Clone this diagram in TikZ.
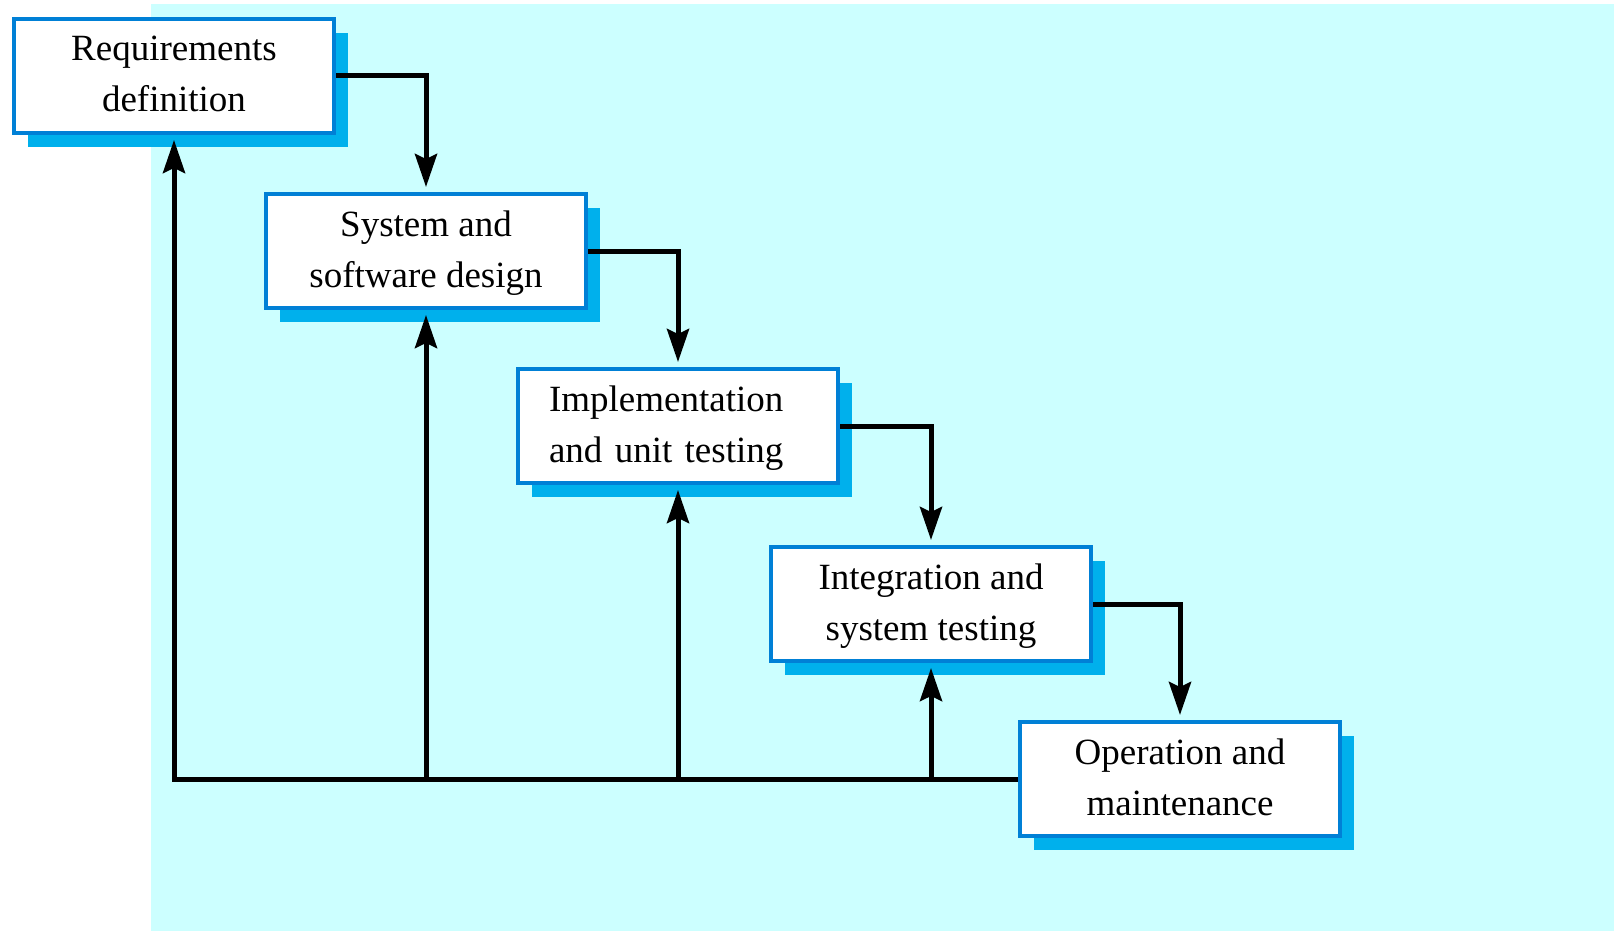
\documentclass[tikz,border=0pt]{standalone}
\usepackage{fontspec}
\setmainfont{Liberation Serif}
\usetikzlibrary{arrows.meta,shadows}
\definecolor{panel}{HTML}{CCFFFF}
\definecolor{edgeblue}{HTML}{0080D6}
\definecolor{shadeblue}{HTML}{00B0EC}
% struts that fix the vertical placement of the two text lines
\newcommand{\upstrut}{\rule{0pt}{31pt}}
\newcommand{\dnstrut}{\rule[-10pt]{0pt}{10pt}}
\begin{document}
\begin{tikzpicture}[x=1pt,y=-1pt,
  phase/.style={draw=edgeblue, line width=4pt, fill=white,
    minimum width=320pt, minimum height=114pt, inner sep=0pt,
    align=center, font=\fontsize{37pt}{51pt}\selectfont,
    drop shadow={shadow xshift=14pt, shadow yshift=-14pt,
      fill=shadeblue, opacity=1}},
  flow/.style={line width=5pt, line join=miter,
    -{Stealth[length=33pt,width=22pt,inset=5pt]}, shorten >=5pt}]
\useasboundingbox (0,0) rectangle (1619,931);
\fill[panel] (151,4) rectangle (1614,931);

% the five phases
\node[phase] (b1) at (174,76)  {\upstrut Requirements\\definition\dnstrut};
\node[phase] (b2) at (426,251) {\upstrut System and\\software design\dnstrut};
\node[phase, align=left, text width=258pt] (b3) at (678,426)
  {\upstrut Implementation\\and unit testing\dnstrut};
\node[phase] (b4) at (931,604) {\upstrut Integration and\\system testing\dnstrut};
\node[phase] (b5) at (1180,779) {\upstrut Operation and\\maintenance\dnstrut};

% forward flow
\draw[flow] (b1.east) -| (b2.north);
\draw[flow] (b2.east) -| (b3.north);
\draw[flow] (b3.east) -| (b4.north);
\draw[flow] (b4.east) -| (b5.north);

% feedback paths
\coordinate (base) at (b1.south |- b5.west);
\draw[flow] (b5.west) -- (base) -- (b1.south);
\draw[flow] (b2.south |- base) -- (b2.south);
\draw[flow] (b3.south |- base) -- (b3.south);
\draw[flow] (b4.south |- base) -- (b4.south);
\end{tikzpicture}
\end{document}
